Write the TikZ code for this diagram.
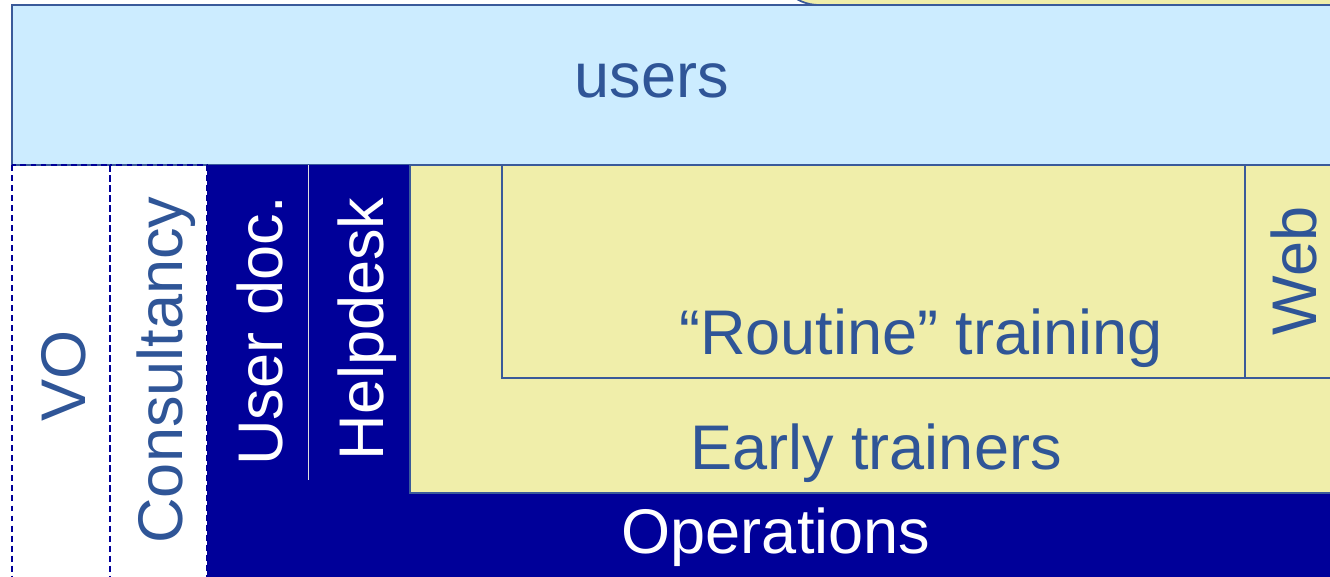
\documentclass[tikz,border=0pt]{standalone}
\usepackage{fontspec}
\setmainfont{Liberation Sans}
\definecolor{userblue}{HTML}{CCECFF}
\definecolor{trainyellow}{HTML}{F0EEAA}
\definecolor{opsblue}{HTML}{000099}
\definecolor{textblue}{HTML}{2F5597}
\definecolor{edgeblue}{HTML}{3A5A9A}
\tikzset{
  lbl/.style={anchor=base,text=textblue,inner sep=0pt,
    font=\fontsize{35.9pt}{43pt}\selectfont},
  oplbl/.style={lbl,text=white},
  dashcol/.style={draw=opsblue,line width=1.5pt,dash pattern=on 3.4pt off 2.3pt},
}
\begin{document}
\begin{tikzpicture}[x=0.02cm,y=-0.02cm]
        \useasboundingbox (0,0) rectangle (1330,576);
        \clip (0,0) rectangle (1330,576);
        % strip above the users box
        \filldraw [fill=trainyellow,draw=edgeblue,line width=1pt,rounded corners=25] (775,-60) rectangle (1400,5);
        % users
        \filldraw [fill=userblue,draw=edgeblue,line width=1.4pt] (12,5) rectangle (1400,165);
        \node [lbl] (users) at (652,97) {users};
        % dashed columns
        \draw [dashcol] (12,165) rectangle (110,600);
        \draw [dashcol] (110,165) rectangle (207,600);
        \node [lbl,rotate=90] (vo) at (85,376) {VO};
        \node [lbl,rotate=90] (consult) at (182,370) {Consultancy};
        % operations
        \fill [opsblue] (207,165) rectangle (1400,600);
        \draw [white!75!gray,line width=.5pt] (308,165) -- (308,480);
        \node [oplbl,rotate=90] (userdoc) at (282,331) {User doc.};
        \node [oplbl,rotate=90] (helpdesk) at (383,329) {Helpdesk};
        \node [oplbl] (ops) at (776,553) {Operations};
        % trainers
        \filldraw [fill=trainyellow,draw=edgeblue,line width=1pt] (410,165) rectangle (1400,493);
        \node [lbl] (early) at (876,469) {Early trainers};
        \draw [edgeblue,line width=1.4pt] (502,165) rectangle (1400,378);
        \draw [edgeblue,line width=1.4pt] (1245,165) -- (1245,378);
        \node [lbl] (routine) at (921,354) {“Routine” training};
        \node [lbl,rotate=90] (web) at (1316,271) {Web};
\end{tikzpicture}
\end{document}
